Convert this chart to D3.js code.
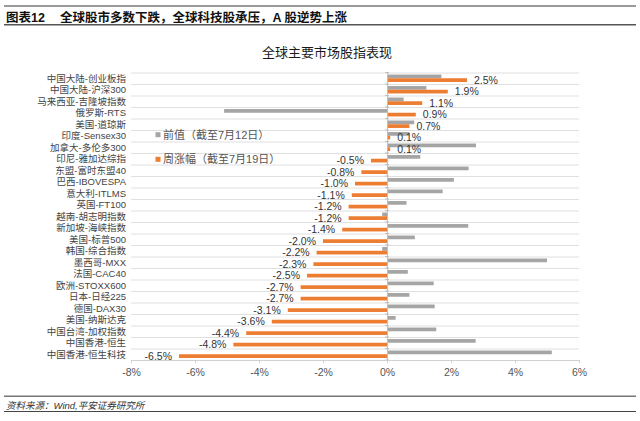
<!DOCTYPE html>
<html>
<head>
<meta charset="utf-8">
<script src="https://cdn.jsdelivr.net/npm/d3@7"></script>
<style>
html,body{margin:0;padding:0;background:#fff;}
svg{display:block;}
</style>
</head>
<body>
<svg id="chart" width="640" height="421"></svg>
<script>
const categories = ["中国大陆-创业板指","中国大陆-沪深300","马来西亚-吉隆坡指数","俄罗斯-RTS","美国-道琼斯","印度-Sensex30","加拿大-多伦多300","印尼-雅加达综指","东盟-富时东盟40","巴西-IBOVESPA","意大利-ITLMS","英国-FT100","越南-胡志明指数","新加坡-海峡指数","美国-标普500","韩国-综合指数","墨西哥-MXX","法国-CAC40","欧洲-STOXX600","日本-日经225","德国-DAX30","美国-纳斯达克","中国台湾-加权指数","中国香港-恒生","中国香港-恒生科技"];
const prevValues = [1.70,1.23,0.52,-5.09,0.85,0.70,2.78,1.04,2.55,2.09,1.74,0.61,-0.15,2.54,0.87,-0.15,5.00,0.65,1.46,0.70,1.49,0.27,1.54,2.77,5.15];
const weekValues = [2.5,1.9,1.1,0.9,0.7,0.1,0.1,-0.5,-0.8,-1.0,-1.1,-1.2,-1.2,-1.4,-2.0,-2.2,-2.3,-2.5,-2.7,-2.7,-3.1,-3.6,-4.4,-4.8,-6.5];
const xTicks = [-8,-6,-4,-2,0,2,4,6];
const seriesNames = ["前值（截至7月12日）","周涨幅（截至7月19日）"];
const headerTag = "图表12";
const headerText = "全球股市多数下跌，全球科技股承压，A 股逆势上涨";
const chartTitle = "全球主要市场股指表现";
const sourceText = "资料来源：Wind,平安证券研究所";

const svg = d3.select("#chart");
const FONT = "'Liberation Sans','Noto Sans CJK SC',sans-serif";
const GRAY = "#a5a5a5", ORANGE = "#ed7d31";

// header
svg.append("rect").attr("x",4).attr("y",5).attr("width",632).attr("height",2).attr("fill","#9a9a9a");
svg.append("rect").attr("x",4).attr("y",24).attr("width",632).attr("height",1.5).attr("fill","#555");
svg.append("text").attr("x",6).attr("y",21.5).attr("font-family",FONT).attr("font-weight","bold")
  .attr("font-size",12.5).attr("fill","#111").text(headerTag);
svg.append("text").attr("x",60).attr("y",21.5).attr("font-family",FONT).attr("font-weight","bold")
  .attr("font-size",12.5).attr("fill","#111").text(headerText);

// title
svg.append("text").attr("x",327).attr("y",57).attr("text-anchor","middle").attr("font-family",FONT)
  .attr("font-size",13).attr("fill","#1a1a1a").text(chartTitle);

const x = d3.scaleLinear().domain([-8,6]).range([131,579]);
const y = d3.scaleBand().domain(categories).range([72.5,360]).paddingInner(0).paddingOuter(0);
const inner = d3.scaleBand().domain(["prev","week"]).range([0,y.bandwidth()]).paddingInner(0).paddingOuter(0.55);

// gridlines at band boundaries
const bounds = categories.map(c => y(c));
const g = svg.append("g");
g.selectAll("line.grid").data(bounds).join("line")
  .attr("x1",x(-8)).attr("x2",x(6)).attr("y1",d=>d+0.5).attr("y2",d=>d+0.5)
  .attr("stroke","#e0e0e0").attr("stroke-width",1);

// bars
g.selectAll("rect.prev").data(categories).join("rect")
  .attr("x",(d,i)=>x(Math.min(0,prevValues[i])))
  .attr("width",(d,i)=>Math.abs(x(prevValues[i])-x(0)))
  .attr("y",d=>y(d)+inner("prev")).attr("height",inner.bandwidth())
  .attr("fill",GRAY);
g.selectAll("rect.week").data(categories).join("rect")
  .attr("x",(d,i)=>x(Math.min(0,weekValues[i])))
  .attr("width",(d,i)=>Math.abs(x(weekValues[i])-x(0)))
  .attr("y",d=>y(d)+inner("week")).attr("height",inner.bandwidth())
  .attr("fill",ORANGE);

// zero axis with category ticks
const yAxis = d3.axisLeft(y).tickSize(0).tickFormat("");
const ya = svg.append("g").attr("transform",`translate(${x(0)},0)`).call(yAxis);
ya.select(".domain").attr("stroke","#bfbfbf");
ya.selectAll("line.bt").data(bounds.concat([360])).join("line").attr("class","bt")
  .attr("x1",-2).attr("x2",2).attr("y1",d=>d).attr("y2",d=>d).attr("stroke","#bfbfbf");

// category labels
svg.append("g").selectAll("text").data(categories).join("text")
  .attr("x",126).attr("y",d=>y(d)+y.bandwidth()/2).attr("dy","0.35em")
  .attr("text-anchor","end").attr("font-family",FONT).attr("font-size",9.5).attr("fill","#444")
  .text(d=>d);

// value labels
svg.append("g").selectAll("text").data(categories).join("text")
  .attr("x",(d,i)=> weekValues[i]>=0 ? x(weekValues[i])+7 : x(weekValues[i])-7)
  .attr("y",d=>y(d)+inner("week")+inner.bandwidth()/2).attr("dy","0.35em")
  .attr("text-anchor",(d,i)=> weekValues[i]>=0 ? "start":"end")
  .attr("font-family",FONT).attr("font-size",10.5).attr("fill","#333")
  .text((d,i)=>weekValues[i].toFixed(1)+"%");

// x axis
const xAxis = d3.axisBottom(x).tickValues(xTicks).tickSize(3).tickPadding(6).tickFormat(d=>d+"%");
const xa = svg.append("g").attr("transform","translate(0,360)").call(xAxis);
xa.select(".domain").attr("stroke","#d0d0d0");
xa.selectAll(".tick line").attr("stroke","#d0d0d0");
xa.selectAll(".tick text").attr("font-family",FONT).attr("font-size",10.5).attr("fill","#555");

// legend
const legend = svg.append("g");
const legY = [134.7,159.3];
const legC = [GRAY,ORANGE];
legend.selectAll("rect").data(seriesNames).join("rect")
  .attr("x",155.5).attr("y",(d,i)=>legY[i]-2.5).attr("width",5).attr("height",5).attr("fill",(d,i)=>legC[i]);
legend.selectAll("text").data(seriesNames).join("text")
  .attr("x",163).attr("y",(d,i)=>legY[i]).attr("dy","0.35em")
  .attr("font-family",FONT).attr("font-size",11).attr("fill","#555").text(d=>d);

// footer
svg.append("rect").attr("x",4).attr("y",395.5).attr("width",632).attr("height",1.5).attr("fill","#777");
svg.append("rect").attr("x",4).attr("y",411).attr("width",632).attr("height",1).attr("fill","#444");
svg.append("text").attr("x",6).attr("y",408.5).attr("font-family",FONT).attr("font-style","italic")
  .attr("font-size",9.5).attr("fill","#333").text(sourceText);
</script>
</body>
</html>
